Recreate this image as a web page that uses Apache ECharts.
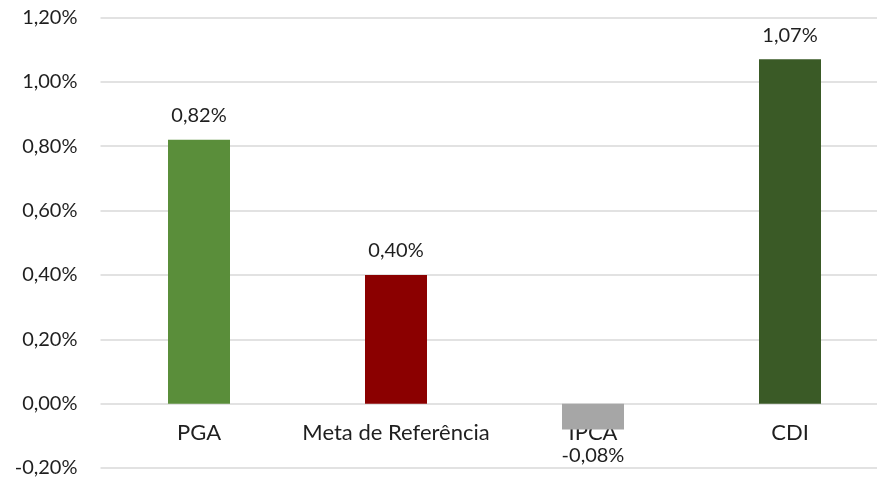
<!DOCTYPE html>
<html>
<head>
<meta charset="utf-8">
<script src="https://cdn.jsdelivr.net/npm/echarts@6/dist/echarts.min.js"></script>
<style>html,body{margin:0;padding:0;background:#fff;}#c{width:877px;height:481px;}</style>
</head>
<body>
<div id="c"></div>
<script>
const categories = ['PGA', 'Meta de Referência', 'IPCA', 'CDI'];
const values = [0.82, 0.40, -0.08, 1.07];
const colors = ['#5A8E3A', '#8B0000', '#A6A6A6', '#3A5A26'];
const yMin = -0.2, yMax = 1.2, yStep = 0.2;

const fmt = v => v.toFixed(2).replace('.', ',') + '%';
const font = 'Lato';
const chart = echarts.init(document.getElementById('c'), null, {renderer: 'canvas'});
chart.setOption({
  animation: false,
  grid: {left: 100.5, right: -11.5, top: 17.5, bottom: 13, containLabel: false, outerBoundsMode: 'none'},
  xAxis: {
    type: 'category', data: categories, position: 'bottom', offset: -64.5,
    axisLine: {show: false, onZero: false},
    axisTick: {show: false},
    axisLabel: {color: '#1F1F1F', fontFamily: font, fontSize: 22, margin: 18, interval: 0, hideOverlap: false}
  },
  yAxis: {
    type: 'value', min: yMin, max: yMax, interval: yStep,
    axisLine: {show: false}, axisTick: {show: false},
    splitLine: {lineStyle: {color: '#D9D9D9', width: 1.5}},
    axisLabel: {color: '#1F1F1F', fontFamily: font, fontSize: 20, margin: 23,
      formatter: v => fmt(v)}
  },
  series: [{
    type: 'bar', barWidth: 62,
    data: values.map((v, i) => ({
      value: v, itemStyle: {color: colors[i]},
      label: {position: v < 0 ? 'bottom' : 'top', distance: v < 0 ? 16 : 14}
    })),
    label: {show: true, color: '#1F1F1F', fontFamily: font, fontSize: 20,
      formatter: p => fmt(p.value)}
  }]
});
</script>
</body>
</html>
